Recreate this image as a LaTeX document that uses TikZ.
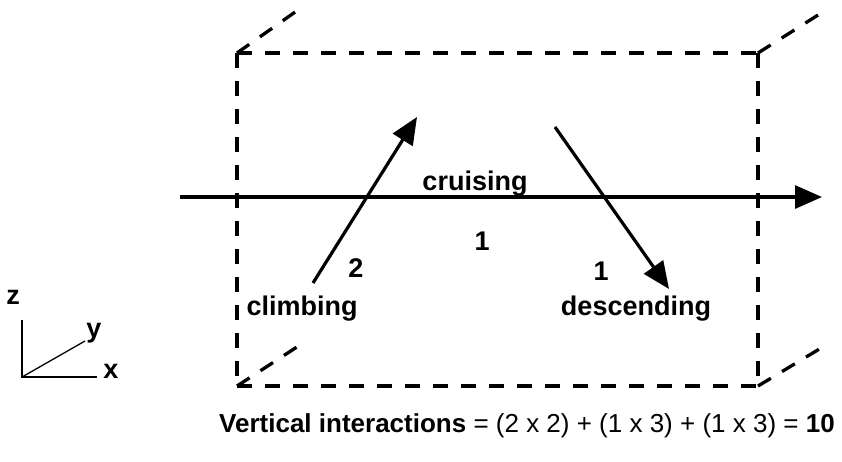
\documentclass[tikz,border=0pt]{standalone}
\usepackage{fontspec}
\setmainfont{Liberation Sans}
\usetikzlibrary{arrows.meta}
\tikzset{
  edge/.style={line width=3.3pt, dash pattern=on 15pt off 13pt},
  flow/.style={line width=3.2pt, -{Triangle[length=27pt,width=23pt]}},
  axis/.style={line width=1.3pt},
  lbl/.style={font=\fontsize{27}{32}\selectfont\bfseries, inner sep=0pt},
}
\begin{document}
\begin{tikzpicture}[x=1pt,y=-1pt]
\useasboundingbox (0,0) rectangle (842,461);
% box corners
\coordinate (tl) at (237,53);
\coordinate (tr) at (758,53);
\coordinate (bl) at (237,386);
\coordinate (br) at (758,386);
\coordinate (tlb) at (298,10);
\coordinate (trb) at (826,10);
\coordinate (blb) at (300,345);
\coordinate (brb) at (826,345);
\draw[edge] (tl) -- (tr);
\draw[edge] (bl) -- (br);
\draw[edge] (tl) -- (bl);
\draw[edge] (tr) -- (br);
\draw[edge] (tl) -- (tlb);
\draw[edge] (tr) -- (trb);
\draw[edge] (bl) -- (blb);
\draw[edge] (br) -- (brb);
% flights
\coordinate (cs) at (180,197);
\coordinate (ce) at (822,197);
\draw[flow] (cs) -- (ce);
\coordinate (cls) at (313,283);
\coordinate (cle) at (417,117);
\draw[flow] (cls) -- (cle);
\coordinate (ds) at (555,127);
\coordinate (de) at (669,289);
\draw[flow] (ds) -- (de);
% labels
\node[lbl] (cruise) at (475,184) {cruising};
\node[lbl] (n1) at (482,241) {1};
\node[lbl] (n2) at (356,268) {2};
\node[lbl] (n3) at (601,271) {1};
\node[lbl] (climb) at (302,309) {climbing};
\node[lbl] (desc) at (636,309) {descending};
% axes
\coordinate (o) at (22,377);
\coordinate (zt) at (22,320);
\coordinate (xt) at (97,377);
\coordinate (yt) at (85,341);
\draw[axis] (zt) -- (o) -- (xt);
\draw[axis] (o) -- (yt);
\node[lbl] (z) at (13,297) {z};
\node[lbl] (y) at (94,333) {y};
\node[lbl] (x) at (111,371) {x};
% formula
\node[font=\fontsize{26}{30}\selectfont, inner sep=0pt] (f) at (527,426) {\textbf{Vertical interactions} = (2 x 2) + (1 x 3) + (1 x 3) = \textbf{10}};
\end{tikzpicture}
\end{document}
